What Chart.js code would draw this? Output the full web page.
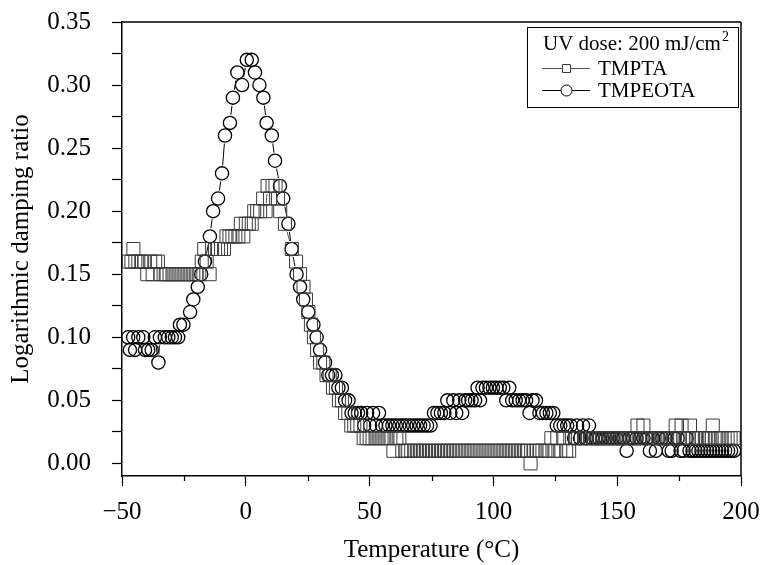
<!DOCTYPE html>
<html>
<head>
<meta charset="utf-8">
<script src="https://cdn.jsdelivr.net/npm/chart.js@4.4.1/dist/chart.umd.min.js"></script>
<style>
  html, body { margin: 0; padding: 0; background: #ffffff; }
  canvas { display: block; }
</style>
</head>
<body>
<canvas id="chart" width="763" height="565"></canvas>
<script>
// Logarithmic damping ratio vs. temperature, UV dose 200 mJ/cm2

const tmptaTemp = [
  -47.2, -46.2, -45.4, -44.6, -43.4, -42.2, -41.0, -39.8, -38.6, -37.6, -36.6, -35.5,
  -34.4, -33.2, -32.0, -30.8, -29.6, -28.4, -27.2, -26.0, -24.8, -23.6, -22.4, -21.2, -20.0, -18.8,
  -17.8, -16.8, -15.8, -14.6, -13.6, -12.4, -11.2, -10.0, -8.8, -7.8, -6.6, -5.4, -4.2, -3.0,
  -2.0, -1.0, 0.0, 1.2, 2.4, 3.4, 4.6, 5.8, 7.0, 8.0, 8.8, 9.8, 10.8, 12.0, 13.0, 13.9,
  15.8, 18.6, 20.3, 21.9, 23.3, 24.3, 25.3, 26.3, 27.5, 28.8, 30.0, 31.3, 32.6, 33.9, 35.2, 36.4,
  37.6, 38.8, 40.1, 41.4, 42.6, 43.8, 45.0, 46.3, 47.6, 48.8, 50.0, 51.2, 52.4, 53.6, 54.8, 56.0,
  57.2, 58.4, 59.6, 60.8, 62.0, 63.2,
  64.4, 65.6, 66.8, 68.0, 69.2, 70.4, 71.6, 72.8, 74.0, 75.2, 76.4, 77.6, 78.8, 80.0,
  81.2, 82.4, 83.6, 84.8, 86.0, 87.2, 88.4, 89.6, 90.8, 92.0, 93.2, 94.4, 95.6, 96.8,
  98.0, 99.2, 100.4, 101.6, 102.8, 104.0, 105.2, 106.4, 107.6, 108.8, 110.0, 111.2, 112.4, 113.6,
  115.0, 116.2, 117.4, 118.6, 119.8, 121.0, 122.2, 123.4, 124.6, 125.8, 127.0, 128.2, 129.4, 130.6, 131.8,
  133.0, 134.2, 135.4, 136.6, 137.8, 139.0, 140.2, 141.4, 142.6, 143.8, 145.0, 146.2, 147.4, 148.6,
  149.8, 151.0, 152.2, 153.4, 154.6, 155.8, 157.0, 158.2, 159.4, 160.6, 161.8,
  163.0, 164.2, 165.4, 166.6, 167.8, 169.0, 170.2, 171.4, 172.6, 173.6, 174.8, 176.0, 177.2, 178.4, 179.4,
  180.6, 181.8, 183.0, 184.2, 185.4, 186.6, 187.6, 188.6,
  189.8, 191.0, 192.2, 193.4, 194.6, 195.8, 197.0
];
const tmptaRatio = [
  0.16, 0.16, 0.17, 0.16, 0.16, 0.16, 0.16, 0.15, 0.16, 0.15, 0.16, 0.16,
  0.15, 0.15, 0.15, 0.15, 0.15, 0.15, 0.15, 0.15, 0.15, 0.15, 0.15, 0.15, 0.15, 0.15,
  0.16, 0.17, 0.16, 0.15, 0.17, 0.17, 0.17, 0.17, 0.17, 0.18, 0.18, 0.18, 0.18, 0.18,
  0.19, 0.18, 0.19, 0.19, 0.19, 0.20, 0.20, 0.20, 0.21, 0.20, 0.22, 0.21, 0.22, 0.22, 0.21, 0.20,
  0.19, 0.17, 0.16, 0.15, 0.14, 0.13, 0.12, 0.11, 0.10, 0.09, 0.08, 0.08, 0.07, 0.07, 0.06, 0.06,
  0.05, 0.05, 0.04, 0.04, 0.03, 0.03, 0.03, 0.03, 0.02, 0.02, 0.02, 0.02, 0.02, 0.02, 0.02, 0.02,
  0.02, 0.02, 0.01, 0.02, 0.02, 0.01,
  0.01, 0.01, 0.01, 0.01, 0.01, 0.01, 0.01, 0.01, 0.01, 0.01, 0.01, 0.01, 0.01, 0.01,
  0.01, 0.01, 0.01, 0.01, 0.01, 0.01, 0.01, 0.01, 0.01, 0.01, 0.01, 0.01, 0.01, 0.01,
  0.01, 0.01, 0.01, 0.01, 0.01, 0.01, 0.01, 0.01, 0.01, 0.01, 0.01, 0.01, 0.01, 0.01,
  0.00, 0.01, 0.01, 0.01, 0.01, 0.01, 0.01, 0.02, 0.01, 0.02, 0.01, 0.02, 0.01, 0.01, 0.02,
  0.02, 0.02, 0.02, 0.02, 0.02, 0.02, 0.02, 0.02, 0.02, 0.02, 0.02, 0.02, 0.02, 0.02,
  0.02, 0.02, 0.02, 0.02, 0.02, 0.02, 0.02, 0.03, 0.02, 0.03, 0.02,
  0.02, 0.02, 0.02, 0.02, 0.02, 0.02, 0.02, 0.02, 0.02, 0.03, 0.02, 0.03, 0.02, 0.02, 0.03,
  0.02, 0.02, 0.02, 0.02, 0.02, 0.02, 0.02, 0.03,
  0.02, 0.02, 0.02, 0.02, 0.02, 0.02, 0.02
];

const tmpeotaTemp = [
  -47.5, -46.8, -45.5, -44.7, -43.4, -41.4, -40.7, -39.4, -38.0, -36.7, -35.3, -34.7,
  -32.7, -31.3, -29.9, -28.6, -27.3, -26.6, -25.2, -22.5, -21.2, -19.4, -18.0, -16.5,
  -14.5, -13.2, -11.2, -9.6, -8.4, -6.4, -5.2, -3.4, -1.5, 0.4, 2.4, 3.7,
  5.5, 7.1, 8.4, 10.5, 11.8, 13.8, 15.1, 17.2, 18.5, 20.5, 21.9, 23.2,
  25.2, 27.3, 28.6, 30.0, 32.0, 33.3, 34.8, 36.2, 37.4, 38.8, 40.1, 41.5,
  42.7, 44.0, 45.3, 46.6, 47.8, 49.0, 50.2, 51.4, 52.6, 53.8, 55.0, 56.4,
  57.8, 59.2, 60.6, 62.0, 63.4, 64.8, 66.2, 67.6, 69.0, 70.4, 71.8, 73.2, 74.6,
  76.0, 77.4, 78.8, 80.2, 81.4, 82.6, 83.8, 85.0, 86.2, 87.4, 88.6, 89.8, 91.2, 92.6,
  93.6, 94.6, 95.6, 97.0, 98.4, 99.8, 101.2, 102.6, 104.0, 105.2, 106.4, 107.6,
  109.0, 110.4, 111.8, 113.2, 114.6, 115.8, 117.2, 118.6, 120.0, 121.4, 122.8, 124.2,
  125.6, 127.0, 128.4, 129.8, 131.2, 132.6, 133.8, 135.0, 136.2, 137.4, 138.6, 139.8,
  141.2, 142.6, 144.0, 145.4, 146.8, 148.2, 149.6, 151.0, 152.4, 153.8, 155.0, 156.4,
  157.8, 159.2, 160.6, 162.0, 163.2, 164.4, 165.6, 166.8, 168.2, 169.6, 170.8, 172.0,
  173.2, 174.4, 175.6, 176.8, 178.0, 179.2,
  180.4, 181.6, 182.8, 184.0, 185.2, 186.4, 187.6, 188.8, 190.0, 191.2, 192.4, 193.6, 194.8, 196.0, 197.2
];
const tmpeotaRatio = [
  0.10, 0.09, 0.10, 0.09, 0.10, 0.10, 0.09, 0.09, 0.09, 0.10, 0.08, 0.10,
  0.10, 0.10, 0.10, 0.10, 0.10, 0.11, 0.11, 0.12, 0.13, 0.14, 0.15, 0.16,
  0.18, 0.20, 0.21, 0.23, 0.26, 0.27, 0.29, 0.31, 0.30, 0.32, 0.32, 0.31,
  0.30, 0.29, 0.27, 0.26, 0.24, 0.22, 0.21, 0.19, 0.17, 0.15, 0.14, 0.13,
  0.12, 0.11, 0.10, 0.09, 0.08, 0.07, 0.07, 0.07, 0.06, 0.06, 0.05, 0.05,
  0.04, 0.04, 0.04, 0.04, 0.03, 0.04, 0.03, 0.04, 0.03, 0.04, 0.03, 0.03,
  0.03, 0.03, 0.03, 0.03, 0.03, 0.03, 0.03, 0.03, 0.03, 0.03, 0.03, 0.03, 0.03,
  0.04, 0.04, 0.04, 0.04, 0.05, 0.04, 0.05, 0.04, 0.05, 0.04, 0.05, 0.05, 0.05, 0.05,
  0.06, 0.05, 0.06, 0.06, 0.06, 0.06, 0.06, 0.06, 0.06, 0.05, 0.06, 0.05,
  0.05, 0.05, 0.05, 0.05, 0.04, 0.05, 0.05, 0.04, 0.04, 0.04, 0.04, 0.04,
  0.03, 0.03, 0.03, 0.03, 0.03, 0.02, 0.03, 0.02, 0.03, 0.02, 0.03, 0.02,
  0.02, 0.02, 0.02, 0.02, 0.02, 0.02, 0.02, 0.02, 0.02, 0.01, 0.02, 0.02,
  0.02, 0.02, 0.02, 0.02, 0.01, 0.02, 0.01, 0.02, 0.02, 0.02, 0.01, 0.01,
  0.02, 0.02, 0.01, 0.01, 0.02, 0.01,
  0.01, 0.01, 0.01, 0.01, 0.01, 0.01, 0.01, 0.01, 0.01, 0.01, 0.01, 0.01, 0.01, 0.01, 0.01
];

// Axis ticks: labelled majors and unlabelled minors
const xMajorTicks = [-50, 0, 50, 100, 150, 200];
const xMajorLabels = ['\u221250', '0', '50', '100', '150', '200'];
const xMinorTicks = [-25, 25, 75, 125, 175];
const yMajorTicks = [0.00, 0.05, 0.10, 0.15, 0.20, 0.25, 0.30, 0.35];
const yMajorLabels = ['0.00', '0.05', '0.10', '0.15', '0.20', '0.25', '0.30', '0.35'];
const yMinorTicks = [0.025, 0.075, 0.125, 0.175, 0.225, 0.275, 0.325];

const legendTitle = 'UV dose: 200 mJ/cm';
const legendTitleSup = '2';
const seriesNames = ['TMPTA', 'TMPEOTA'];

const SERIF = '"Liberation Serif", "Times New Roman", serif';
const near = (a, b) => Math.abs(a - b) < 1e-6;

const toPoints = (xs, ys) => xs.map((x, i) => ({ x: x, y: ys[i] }));

// Connecting lines that stop at the marker outlines
const linkLines = {
  id: 'linkLines',
  beforeDatasetsDraw(chart) {
    const ctx = chart.ctx;
    chart.data.datasets.forEach((ds, di) => {
      const pts = chart.getDatasetMeta(di).data;
      ctx.save();
      ctx.strokeStyle = ds.linkColor;
      ctx.lineWidth = 1;
      ctx.beginPath();
      for (let i = 1; i < pts.length; i++) {
        const a = pts[i - 1], b = pts[i];
        const dx = b.x - a.x, dy = b.y - a.y;
        const len = Math.hypot(dx, dy);
        if (!len) continue;
        const ux = dx / len, uy = dy / len;
        let g;
        if (ds.pointStyle === 'rect') {
          const h = ds.pointRadius * Math.SQRT1_2;
          g = h / Math.max(Math.abs(ux), Math.abs(uy));
        } else {
          g = ds.pointRadius;
        }
        g += 1.5;
        if (len <= 2 * g + 1) continue;
        ctx.moveTo(a.x + ux * g, a.y + uy * g);
        ctx.lineTo(b.x - ux * g, b.y - uy * g);
      }
      ctx.stroke();
      ctx.restore();
    });
  }
};

// Frame, short minor ticks on the temperature axis, and the legend box
const decorations = {
  id: 'decorations',
  afterDraw(chart) {
    const ctx = chart.ctx;
    const area = chart.chartArea;
    const xs = chart.scales.x;
    ctx.save();
    ctx.strokeStyle = '#000';
    ctx.lineWidth = 1.5;
    ctx.beginPath();
    ctx.moveTo(area.left, area.top);
    ctx.lineTo(area.right, area.top);
    ctx.moveTo(area.right, area.top);
    ctx.lineTo(area.right, area.bottom);
    ctx.stroke();

    ctx.lineWidth = 1.2;
    ctx.beginPath();
    xMinorTicks.forEach(v => {
      const px = Math.round(xs.getPixelForValue(v)) + 0.5;
      ctx.moveTo(px, area.bottom);
      ctx.lineTo(px, area.bottom + 5);
    });
    ctx.stroke();

    // legend
    const bx = 527, by = 27, bw = 211, bh = 80;
    ctx.lineWidth = 1;
    ctx.strokeRect(bx + 0.5, by + 0.5, bw, bh);
    ctx.fillStyle = '#000';
    ctx.textBaseline = 'alphabetic';
    ctx.textAlign = 'left';
    ctx.font = '21px ' + SERIF;
    ctx.fillText(legendTitle, 543, 50);
    const tw = ctx.measureText(legendTitle).width;
    ctx.font = '14px ' + SERIF;
    ctx.fillText(legendTitleSup, 543 + tw + 1, 41);

    const rows = [75, 97];
    chart.data.datasets.forEach((ds, i) => {
      const ly = rows[i] - 6.5;
      ctx.strokeStyle = ds.linkColor;
      ctx.lineWidth = 1;
      ctx.beginPath();
      ctx.moveTo(542, ly);
      ctx.lineTo(590, ly);
      ctx.stroke();
      ctx.strokeStyle = ds.pointBorderColor;
      ctx.fillStyle = '#fff';
      ctx.lineWidth = 1;
      ctx.beginPath();
      if (ds.pointStyle === 'rect') {
        ctx.rect(562.5, ly - 4, 8, 8);
      } else {
        ctx.arc(566.5, ly, 5.5, 0, Math.PI * 2);
      }
      ctx.fill();
      ctx.stroke();
      ctx.fillStyle = '#000';
      ctx.font = '21px ' + SERIF;
      ctx.fillText(seriesNames[i], 598, rows[i]);
    });
    ctx.restore();
  }
};

new Chart(document.getElementById('chart'), {
  type: 'scatter',
  data: {
    datasets: [
      {
        label: seriesNames[0],
        data: toPoints(tmptaTemp, tmptaRatio),
        showLine: false,
        pointStyle: 'rect',
        pointRadius: 9.2,
        pointHoverRadius: 9.2,
        pointBorderWidth: 1,
        pointBorderColor: '#3a3a3a',
        pointBackgroundColor: 'rgba(0,0,0,0)',
        linkColor: '#555555',
        clip: false
      },
      {
        label: seriesNames[1],
        data: toPoints(tmpeotaTemp, tmpeotaRatio),
        showLine: false,
        pointStyle: 'circle',
        pointRadius: 6.6,
        pointHoverRadius: 6.6,
        pointBorderWidth: 1.3,
        pointBorderColor: '#000000',
        pointBackgroundColor: 'rgba(0,0,0,0)',
        linkColor: '#000000',
        clip: false
      }
    ]
  },
  options: {
    responsive: false,
    animation: false,
    devicePixelRatio: 1,
    layout: { padding: { top: 22, right: 22, left: 0, bottom: 0 } },
    plugins: {
      legend: { display: false },
      tooltip: { enabled: false }
    },
    scales: {
      x: {
        type: 'linear',
        min: -50,
        max: 200,
        afterFit(s) {
          s.height = 89;
          s.paddingLeft = 0;
          s.paddingRight = 0;
        },
        afterBuildTicks(s) {
          s.ticks = xMajorTicks.concat(xMinorTicks).sort((a, b) => a - b).map(v => ({ value: v }));
        },
        border: { display: true, color: '#000', width: 1.5 },
        grid: {
          drawOnChartArea: false,
          drawTicks: true,
          tickLength: 10,
          tickWidth: 1.2,
          tickColor: c => (c.tick && xMinorTicks.some(v => near(v, c.tick.value))) ? 'rgba(0,0,0,0)' : '#000'
        },
        ticks: {
          autoSkip: false,
          maxRotation: 0,
          padding: 11,
          color: '#000',
          font: { family: SERIF, size: 25 },
          callback: v => {
            const i = xMajorTicks.findIndex(t => near(t, v));
            return i >= 0 ? xMajorLabels[i] : '';
          }
        },
        title: {
          display: true,
          text: 'Temperature (\u00B0C)',
          color: '#000',
          font: { family: SERIF, size: 25 },
          padding: { top: 0, bottom: 0 }
        }
      },
      y: {
        type: 'linear',
        min: -0.01,
        max: 0.35,
        afterFit(s) {
          s.width = 122;
          s.paddingTop = 0;
          s.paddingBottom = 0;
        },
        afterBuildTicks(s) {
          s.ticks = yMajorTicks.concat(yMinorTicks).sort((a, b) => a - b).map(v => ({ value: v }));
        },
        border: { display: true, color: '#000', width: 1.5 },
        grid: {
          drawOnChartArea: false,
          drawTicks: true,
          tickLength: 10,
          tickWidth: 1.2,
          tickColor: '#000'
        },
        ticks: {
          autoSkip: false,
          padding: 21,
          color: '#000',
          font: { family: SERIF, size: 25 },
          callback: v => {
            const i = yMajorTicks.findIndex(t => near(t, v));
            return i >= 0 ? yMajorLabels[i] : '';
          }
        },
        title: {
          display: true,
          text: 'Logarithmic damping ratio',
          color: '#000',
          font: { family: SERIF, size: 25 },
          padding: { top: 6, bottom: 0 }
        }
      }
    }
  },
  plugins: [linkLines, decorations]
});
</script>
</body>
</html>
